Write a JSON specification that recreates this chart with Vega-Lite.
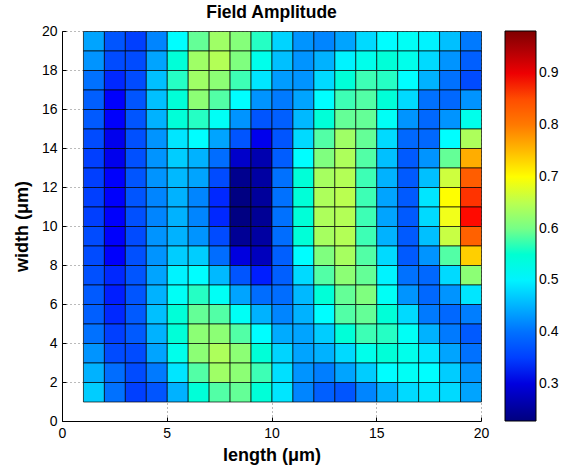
{
  "$schema": "https://vega.github.io/schema/vega-lite/v6.json",
  "width": 419,
  "height": 390,
  "autosize": "none",
  "padding": {"left": 62, "top": 31, "right": 81, "bottom": 50},
  "background": "white",
  "title": {"text": "Field Amplitude", "font": "Liberation Sans", "fontSize": 17.5, "fontWeight": "bold", "color": "#000", "anchor": "middle", "offset": 3},
  "config": {"view": {"stroke": null}},
  "data": {"values": [
{"x":1,"y":19,"v":0.44},{"x":2,"y":19,"v":0.37},{"x":3,"y":19,"v":0.35},{"x":4,"y":19,"v":0.42},{"x":5,"y":19,"v":0.51},{"x":6,"y":19,"v":0.59},{"x":7,"y":19,"v":0.63},{"x":8,"y":19,"v":0.61},{"x":9,"y":19,"v":0.56},{"x":10,"y":19,"v":0.475},{"x":11,"y":19,"v":0.43},{"x":12,"y":19,"v":0.42},{"x":13,"y":19,"v":0.44},{"x":14,"y":19,"v":0.48},{"x":15,"y":19,"v":0.51},{"x":16,"y":19,"v":0.52},{"x":17,"y":19,"v":0.5},{"x":18,"y":19,"v":0.46},{"x":19,"y":19,"v":0.41},
{"x":1,"y":18,"v":0.43},{"x":2,"y":18,"v":0.36},{"x":3,"y":18,"v":0.36},{"x":4,"y":18,"v":0.44},{"x":5,"y":18,"v":0.545},{"x":6,"y":18,"v":0.63},{"x":7,"y":18,"v":0.645},{"x":8,"y":18,"v":0.605},{"x":9,"y":18,"v":0.53},{"x":10,"y":18,"v":0.46},{"x":11,"y":18,"v":0.43},{"x":12,"y":18,"v":0.45},{"x":13,"y":18,"v":0.5},{"x":14,"y":18,"v":0.53},{"x":15,"y":18,"v":0.545},{"x":16,"y":18,"v":0.53},{"x":17,"y":18,"v":0.48},{"x":18,"y":18,"v":0.43},{"x":19,"y":18,"v":0.38},
{"x":1,"y":17,"v":0.4},{"x":2,"y":17,"v":0.335},{"x":3,"y":17,"v":0.36},{"x":4,"y":17,"v":0.46},{"x":5,"y":17,"v":0.56},{"x":6,"y":17,"v":0.63},{"x":7,"y":17,"v":0.615},{"x":8,"y":17,"v":0.57},{"x":9,"y":17,"v":0.49},{"x":10,"y":17,"v":0.435},{"x":11,"y":17,"v":0.43},{"x":12,"y":17,"v":0.48},{"x":13,"y":17,"v":0.545},{"x":14,"y":17,"v":0.57},{"x":15,"y":17,"v":0.56},{"x":16,"y":17,"v":0.51},{"x":17,"y":17,"v":0.45},{"x":18,"y":17,"v":0.4},{"x":19,"y":17,"v":0.36},
{"x":1,"y":16,"v":0.38},{"x":2,"y":16,"v":0.32},{"x":3,"y":16,"v":0.37},{"x":4,"y":16,"v":0.46},{"x":5,"y":16,"v":0.545},{"x":6,"y":16,"v":0.615},{"x":7,"y":16,"v":0.58},{"x":8,"y":16,"v":0.51},{"x":9,"y":16,"v":0.43},{"x":10,"y":16,"v":0.41},{"x":11,"y":16,"v":0.44},{"x":12,"y":16,"v":0.51},{"x":13,"y":16,"v":0.57},{"x":14,"y":16,"v":0.58},{"x":15,"y":16,"v":0.545},{"x":16,"y":16,"v":0.48},{"x":17,"y":16,"v":0.4},{"x":18,"y":16,"v":0.39},{"x":19,"y":16,"v":0.43},
{"x":1,"y":15,"v":0.375},{"x":2,"y":15,"v":0.32},{"x":3,"y":15,"v":0.37},{"x":4,"y":15,"v":0.45},{"x":5,"y":15,"v":0.545},{"x":6,"y":15,"v":0.56},{"x":7,"y":15,"v":0.52},{"x":8,"y":15,"v":0.43},{"x":9,"y":15,"v":0.37},{"x":10,"y":15,"v":0.38},{"x":11,"y":15,"v":0.455},{"x":12,"y":15,"v":0.545},{"x":13,"y":15,"v":0.59},{"x":14,"y":15,"v":0.59},{"x":15,"y":15,"v":0.52},{"x":16,"y":15,"v":0.43},{"x":17,"y":15,"v":0.39},{"x":18,"y":15,"v":0.43},{"x":19,"y":15,"v":0.53},
{"x":1,"y":14,"v":0.36},{"x":2,"y":14,"v":0.31},{"x":3,"y":14,"v":0.365},{"x":4,"y":14,"v":0.43},{"x":5,"y":14,"v":0.49},{"x":6,"y":14,"v":0.51},{"x":7,"y":14,"v":0.44},{"x":8,"y":14,"v":0.37},{"x":9,"y":14,"v":0.31},{"x":10,"y":14,"v":0.37},{"x":11,"y":14,"v":0.48},{"x":12,"y":14,"v":0.58},{"x":13,"y":14,"v":0.63},{"x":14,"y":14,"v":0.59},{"x":15,"y":14,"v":0.48},{"x":16,"y":14,"v":0.39},{"x":17,"y":14,"v":0.39},{"x":18,"y":14,"v":0.51},{"x":19,"y":14,"v":0.64},
{"x":1,"y":13,"v":0.35},{"x":2,"y":13,"v":0.31},{"x":3,"y":13,"v":0.365},{"x":4,"y":13,"v":0.43},{"x":5,"y":13,"v":0.47},{"x":6,"y":13,"v":0.45},{"x":7,"y":13,"v":0.395},{"x":8,"y":13,"v":0.285},{"x":9,"y":13,"v":0.265},{"x":10,"y":13,"v":0.378},{"x":11,"y":13,"v":0.51},{"x":12,"y":13,"v":0.605},{"x":13,"y":13,"v":0.64},{"x":14,"y":13,"v":0.58},{"x":15,"y":13,"v":0.46},{"x":16,"y":13,"v":0.375},{"x":17,"y":13,"v":0.43},{"x":18,"y":13,"v":0.59},{"x":19,"y":13,"v":0.76},
{"x":1,"y":12,"v":0.35},{"x":2,"y":12,"v":0.32},{"x":3,"y":12,"v":0.37},{"x":4,"y":12,"v":0.43},{"x":5,"y":12,"v":0.455},{"x":6,"y":12,"v":0.44},{"x":7,"y":12,"v":0.36},{"x":8,"y":12,"v":0.24},{"x":9,"y":12,"v":0.255},{"x":10,"y":12,"v":0.4},{"x":11,"y":12,"v":0.545},{"x":12,"y":12,"v":0.635},{"x":13,"y":12,"v":0.645},{"x":14,"y":12,"v":0.57},{"x":15,"y":12,"v":0.45},{"x":16,"y":12,"v":0.375},{"x":17,"y":12,"v":0.46},{"x":18,"y":12,"v":0.665},{"x":19,"y":12,"v":0.835},
{"x":1,"y":11,"v":0.35},{"x":2,"y":11,"v":0.32},{"x":3,"y":11,"v":0.37},{"x":4,"y":11,"v":0.42},{"x":5,"y":11,"v":0.45},{"x":6,"y":11,"v":0.42},{"x":7,"y":11,"v":0.335},{"x":8,"y":11,"v":0.23},{"x":9,"y":11,"v":0.25},{"x":10,"y":11,"v":0.4},{"x":11,"y":11,"v":0.545},{"x":12,"y":11,"v":0.64},{"x":13,"y":11,"v":0.65},{"x":14,"y":11,"v":0.57},{"x":15,"y":11,"v":0.44},{"x":16,"y":11,"v":0.375},{"x":17,"y":11,"v":0.49},{"x":18,"y":11,"v":0.7},{"x":19,"y":11,"v":0.87},
{"x":1,"y":10,"v":0.35},{"x":2,"y":10,"v":0.32},{"x":3,"y":10,"v":0.365},{"x":4,"y":10,"v":0.42},{"x":5,"y":10,"v":0.45},{"x":6,"y":10,"v":0.42},{"x":7,"y":10,"v":0.335},{"x":8,"y":10,"v":0.23},{"x":9,"y":10,"v":0.245},{"x":10,"y":10,"v":0.4},{"x":11,"y":10,"v":0.545},{"x":12,"y":10,"v":0.64},{"x":13,"y":10,"v":0.645},{"x":14,"y":10,"v":0.57},{"x":15,"y":10,"v":0.44},{"x":16,"y":10,"v":0.375},{"x":17,"y":10,"v":0.48},{"x":18,"y":10,"v":0.69},{"x":19,"y":10,"v":0.886},
{"x":1,"y":9,"v":0.36},{"x":2,"y":9,"v":0.32},{"x":3,"y":9,"v":0.36},{"x":4,"y":9,"v":0.43},{"x":5,"y":9,"v":0.45},{"x":6,"y":9,"v":0.43},{"x":7,"y":9,"v":0.36},{"x":8,"y":9,"v":0.245},{"x":9,"y":9,"v":0.255},{"x":10,"y":9,"v":0.395},{"x":11,"y":9,"v":0.545},{"x":12,"y":9,"v":0.635},{"x":13,"y":9,"v":0.645},{"x":14,"y":9,"v":0.57},{"x":15,"y":9,"v":0.45},{"x":16,"y":9,"v":0.375},{"x":17,"y":9,"v":0.46},{"x":18,"y":9,"v":0.66},{"x":19,"y":9,"v":0.83},
{"x":1,"y":8,"v":0.36},{"x":2,"y":8,"v":0.32},{"x":3,"y":8,"v":0.365},{"x":4,"y":8,"v":0.43},{"x":5,"y":8,"v":0.47},{"x":6,"y":8,"v":0.47},{"x":7,"y":8,"v":0.395},{"x":8,"y":8,"v":0.3},{"x":9,"y":8,"v":0.275},{"x":10,"y":8,"v":0.38},{"x":11,"y":8,"v":0.51},{"x":12,"y":8,"v":0.605},{"x":13,"y":8,"v":0.635},{"x":14,"y":8,"v":0.58},{"x":15,"y":8,"v":0.48},{"x":16,"y":8,"v":0.375},{"x":17,"y":8,"v":0.43},{"x":18,"y":8,"v":0.58},{"x":19,"y":8,"v":0.735},
{"x":1,"y":7,"v":0.365},{"x":2,"y":7,"v":0.335},{"x":3,"y":7,"v":0.37},{"x":4,"y":7,"v":0.44},{"x":5,"y":7,"v":0.5},{"x":6,"y":7,"v":0.51},{"x":7,"y":7,"v":0.455},{"x":8,"y":7,"v":0.37},{"x":9,"y":7,"v":0.33},{"x":10,"y":7,"v":0.38},{"x":11,"y":7,"v":0.48},{"x":12,"y":7,"v":0.58},{"x":13,"y":7,"v":0.615},{"x":14,"y":7,"v":0.59},{"x":15,"y":7,"v":0.5},{"x":16,"y":7,"v":0.4},{"x":17,"y":7,"v":0.39},{"x":18,"y":7,"v":0.48},{"x":19,"y":7,"v":0.615},
{"x":1,"y":6,"v":0.375},{"x":2,"y":6,"v":0.33},{"x":3,"y":6,"v":0.37},{"x":4,"y":6,"v":0.45},{"x":5,"y":6,"v":0.52},{"x":6,"y":6,"v":0.56},{"x":7,"y":6,"v":0.52},{"x":8,"y":6,"v":0.44},{"x":9,"y":6,"v":0.395},{"x":10,"y":6,"v":0.395},{"x":11,"y":6,"v":0.455},{"x":12,"y":6,"v":0.545},{"x":13,"y":6,"v":0.59},{"x":14,"y":6,"v":0.605},{"x":15,"y":6,"v":0.52},{"x":16,"y":6,"v":0.43},{"x":17,"y":6,"v":0.39},{"x":18,"y":6,"v":0.43},{"x":19,"y":6,"v":0.49},
{"x":1,"y":5,"v":0.38},{"x":2,"y":5,"v":0.335},{"x":3,"y":5,"v":0.375},{"x":4,"y":5,"v":0.46},{"x":5,"y":5,"v":0.545},{"x":6,"y":5,"v":0.59},{"x":7,"y":5,"v":0.58},{"x":8,"y":5,"v":0.52},{"x":9,"y":5,"v":0.45},{"x":10,"y":5,"v":0.42},{"x":11,"y":5,"v":0.45},{"x":12,"y":5,"v":0.51},{"x":13,"y":5,"v":0.58},{"x":14,"y":5,"v":0.59},{"x":15,"y":5,"v":0.545},{"x":16,"y":5,"v":0.48},{"x":17,"y":5,"v":0.41},{"x":18,"y":5,"v":0.39},{"x":19,"y":5,"v":0.415},
{"x":1,"y":4,"v":0.4},{"x":2,"y":4,"v":0.35},{"x":3,"y":4,"v":0.375},{"x":4,"y":4,"v":0.45},{"x":5,"y":4,"v":0.545},{"x":6,"y":4,"v":0.615},{"x":7,"y":4,"v":0.615},{"x":8,"y":4,"v":0.58},{"x":9,"y":4,"v":0.51},{"x":10,"y":4,"v":0.445},{"x":11,"y":4,"v":0.44},{"x":12,"y":4,"v":0.47},{"x":13,"y":4,"v":0.545},{"x":14,"y":4,"v":0.57},{"x":15,"y":4,"v":0.56},{"x":16,"y":4,"v":0.52},{"x":17,"y":4,"v":0.45},{"x":18,"y":4,"v":0.41},{"x":19,"y":4,"v":0.375},
{"x":1,"y":3,"v":0.43},{"x":2,"y":3,"v":0.36},{"x":3,"y":3,"v":0.36},{"x":4,"y":3,"v":0.44},{"x":5,"y":3,"v":0.53},{"x":6,"y":3,"v":0.615},{"x":7,"y":3,"v":0.64},{"x":8,"y":3,"v":0.615},{"x":9,"y":3,"v":0.545},{"x":10,"y":3,"v":0.475},{"x":11,"y":3,"v":0.44},{"x":12,"y":3,"v":0.45},{"x":13,"y":3,"v":0.48},{"x":14,"y":3,"v":0.53},{"x":15,"y":3,"v":0.545},{"x":16,"y":3,"v":0.53},{"x":17,"y":3,"v":0.49},{"x":18,"y":3,"v":0.44},{"x":19,"y":3,"v":0.4},
{"x":1,"y":2,"v":0.45},{"x":2,"y":2,"v":0.395},{"x":3,"y":2,"v":0.36},{"x":4,"y":2,"v":0.41},{"x":5,"y":2,"v":0.49},{"x":6,"y":2,"v":0.58},{"x":7,"y":2,"v":0.63},{"x":8,"y":2,"v":0.615},{"x":9,"y":2,"v":0.57},{"x":10,"y":2,"v":0.485},{"x":11,"y":2,"v":0.43},{"x":12,"y":2,"v":0.415},{"x":13,"y":2,"v":0.44},{"x":14,"y":2,"v":0.47},{"x":15,"y":2,"v":0.51},{"x":16,"y":2,"v":0.52},{"x":17,"y":2,"v":0.51},{"x":18,"y":2,"v":0.47},{"x":19,"y":2,"v":0.43},
{"x":1,"y":1,"v":0.47},{"x":2,"y":1,"v":0.4},{"x":3,"y":1,"v":0.35},{"x":4,"y":1,"v":0.37},{"x":5,"y":1,"v":0.45},{"x":6,"y":1,"v":0.545},{"x":7,"y":1,"v":0.58},{"x":8,"y":1,"v":0.59},{"x":9,"y":1,"v":0.545},{"x":10,"y":1,"v":0.49},{"x":11,"y":1,"v":0.42},{"x":12,"y":1,"v":0.38},{"x":13,"y":1,"v":0.37},{"x":14,"y":1,"v":0.42},{"x":15,"y":1,"v":0.45},{"x":16,"y":1,"v":0.48},{"x":17,"y":1,"v":0.49},{"x":18,"y":1,"v":0.48},{"x":19,"y":1,"v":0.44}
  ]},
  "mark": {"type": "rect", "stroke": "#000000", "strokeWidth": 0.8, "strokeOpacity": 0.85, "zindex": 1},
  "encoding": {
    "x": {"field": "x", "type": "quantitative", "bin": {"binned": true, "step": 1},
      "scale": {"domain": [0, 20], "nice": false, "zero": false},
      "axis": {"values": [0, 5, 10, 15, 20], "format": "d", "title": "length (μm)", "zindex": 0,
        "titleFont": "Liberation Sans", "titleFontSize": 18, "titleFontWeight": "bold", "titleColor": "#000", "titlePadding": 6,
        "labelFont": "Liberation Sans", "labelFontSize": 14, "labelColor": "#000", "labelPadding": 9, "labelFlush": false,
        "tickSize": -4, "tickColor": "#000", "domainColor": "#000", "domainWidth": 1,
        "grid": true, "gridDash": [1, 3], "gridColor": "#777", "gridWidth": 1}},
    "y": {"field": "y", "type": "quantitative", "bin": {"binned": true, "step": 1},
      "scale": {"domain": [0, 20], "nice": false, "zero": false},
      "axis": {"values": [0, 2, 4, 6, 8, 10, 12, 14, 16, 18, 20], "format": "d", "title": "width (μm)", "zindex": 0,
        "titleFont": "Liberation Sans", "titleFontSize": 18, "titleFontWeight": "bold", "titleColor": "#000", "titlePadding": 10,
        "labelFont": "Liberation Sans", "labelFontSize": 14, "labelColor": "#000", "labelPadding": 9, "labelFlush": false,
        "tickSize": -4, "tickColor": "#000", "domainColor": "#000", "domainWidth": 1,
        "grid": true, "gridDash": [1, 3], "gridColor": "#777", "gridWidth": 1}},
    "color": {"field": "v", "type": "quantitative",
      "scale": {"domain": [0.228, 0.32225, 0.4165, 0.51075, 0.605, 0.69925, 0.7935, 0.88775, 0.982],
        "range": ["#00007F", "#0000FF", "#007FFF", "#00FFFF", "#7FFF7F", "#FFFF00", "#FF7F00", "#FF0000", "#7F0000"]},
      "legend": {"orient": "none", "legendX": 443, "legendY": 0, "title": null, "direction": "vertical",
        "gradientLength": 390, "gradientThickness": 31, "gradientStrokeColor": "#000", "gradientStrokeWidth": 1,
        "values": [0.3, 0.4, 0.5, 0.6, 0.7, 0.8, 0.9], "labelOverlap": false,
        "labelFont": "Liberation Sans", "labelFontSize": 14, "labelColor": "#000", "labelOffset": 3}}
  }
}
